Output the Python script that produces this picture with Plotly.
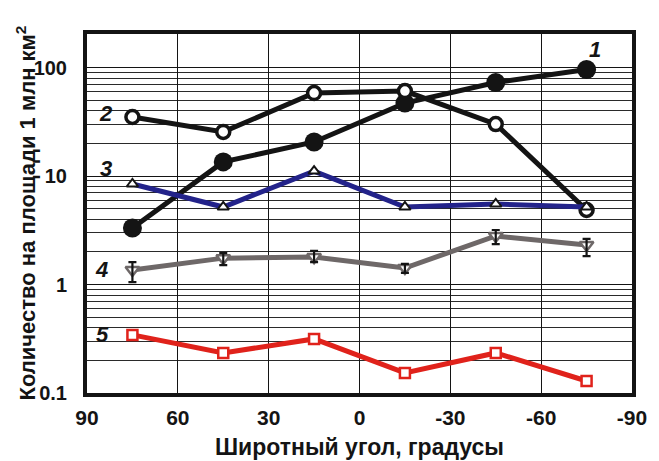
import math
import plotly.graph_objects as go

# Latitude of each sampling band (degrees, north positive)
latitude = [75, 45, 15, -15, -45, -75]

# Counts per 1 million km^2 for each series
series1 = [3.32, 13.5, 20.6, 47.0, 72.8, 96.0]
series2 = [35.0, 25.5, 58.2, 60.7, 30.1, 4.86]
series3 = [8.44, 5.18, 11.1, 5.18, 5.52, 5.18]
series4 = [1.36, 1.75, 1.79, 1.42, 2.80, 2.31]
series4_upper = [1.61, 1.95, 2.04, 1.55, 3.18, 2.63]
series4_lower = [1.05, 1.51, 1.61, 1.28, 2.36, 1.83]
series5 = [0.343, 0.234, 0.315, 0.153, 0.234, 0.129]

x_ticks = [90, 60, 30, 0, -30, -60, -90]
x_tick_text = ["90", "60", "30", "0", "-30", "-60", "-90"]
y_ticks = [0.1, 1, 10, 100]
y_tick_text = ["0.1", "1", "10", "100"]

# Series number labels: (text, latitude, value)
series_labels = [
    ("1", -77.9, 10 ** 2.17),
    ("2", 83.8, 10 ** 1.576),
    ("3", 83.8, 10 ** 1.065),
    ("4", 85.1, 10 ** 0.134),
    ("5", 84.8, 10 ** -0.465),
]

FONT = "Liberation Sans, Arial, sans-serif"
BLACK = "#141414"
BLUE = "#23238a"
GRAY = "#6e6868"
RED = "#e0221b"

fig = go.Figure()

fig.add_trace(go.Scatter(
    x=latitude, y=series1, mode="lines+markers",
    line=dict(color=BLACK, width=5),
    marker=dict(symbol="circle", size=19, color=BLACK, line=dict(width=0)),
))
fig.add_trace(go.Scatter(
    x=latitude, y=series2, mode="lines+markers",
    line=dict(color=BLACK, width=5),
    marker=dict(symbol="circle", size=13, color="white",
                line=dict(color=BLACK, width=3.5)),
))
fig.add_trace(go.Scatter(
    x=latitude, y=series3, mode="lines+markers",
    line=dict(color=BLUE, width=5),
    marker=dict(symbol="triangle-up", size=10, color="white",
                line=dict(color=BLACK, width=2)),
))
fig.add_trace(go.Scatter(
    x=latitude, y=series4, mode="lines+markers",
    line=dict(color=GRAY, width=5),
    marker=dict(symbol="triangle-down", size=12, color="white",
                line=dict(color=GRAY, width=2.5)),
))
# Error bars for series 4 drawn over the markers
fig.add_trace(go.Scatter(
    x=latitude, y=series4, mode="markers",
    marker=dict(size=1, opacity=0),
    error_y=dict(
        type="data", symmetric=False,
        array=[u - v for u, v in zip(series4_upper, series4)],
        arrayminus=[v - d for v, d in zip(series4, series4_lower)],
        color=BLACK, thickness=2.2, width=4,
    ),
))
fig.add_trace(go.Scatter(
    x=latitude, y=series5, mode="lines+markers",
    line=dict(color=RED, width=5),
    marker=dict(symbol="square", size=10, color="white",
                line=dict(color=RED, width=2.5)),
))

for text, lx, ly in series_labels:
    fig.add_annotation(
        x=lx, y=math.log10(ly), xref="x", yref="y",
        text=f"<i>{text}</i>", showarrow=False,
        font=dict(family=FONT, size=22, color=BLACK, weight="bold"),
        xanchor="center", yanchor="middle",
    )

# Axis titles
fig.add_annotation(
    x=0, y=0.5, xref="paper", yref="paper", xshift=-62,
    text="Количество на площади 1 млн км<sup>2</sup>",
    textangle=-90, showarrow=False,
    font=dict(family=FONT, size=22, color=BLACK, weight="bold"),
    xanchor="center", yanchor="middle",
)
fig.add_annotation(
    x=0.5, y=0, xref="paper", yref="paper", yshift=-39,
    text="Широтный угол, градусы", showarrow=False,
    font=dict(family=FONT, size=23, color=BLACK, weight="bold"),
    xanchor="center", yanchor="top",
)

fig.update_xaxes(
    range=[90, -90], tickvals=x_ticks, ticktext=x_tick_text,
    tickfont=dict(family=FONT, size=21, color=BLACK, weight="bold"),
    ticks="", showgrid=True, gridcolor=BLACK, gridwidth=1,
    showline=True, linecolor=BLACK, linewidth=4, mirror=True,
    zeroline=False, ticklabelstandoff=3,
)
fig.update_yaxes(
    type="log", range=[-1, 2.309], tickvals=y_ticks, ticktext=y_tick_text,
    tickfont=dict(family=FONT, size=20, color=BLACK, weight="bold"),
    ticks="", showgrid=True, gridcolor=BLACK, gridwidth=1,
    minor=dict(showgrid=True, gridcolor="#2a2a2a", gridwidth=1, dtick="D1"),
    showline=True, linecolor=BLACK, linewidth=4, mirror=True,
    zeroline=False, ticklabelstandoff=12,
)

fig.update_layout(
    width=659, height=461,
    margin=dict(l=87, r=20, t=34, b=68),
    paper_bgcolor="white", plot_bgcolor="white",
    showlegend=False,
)

fig.write_html("out.html")
